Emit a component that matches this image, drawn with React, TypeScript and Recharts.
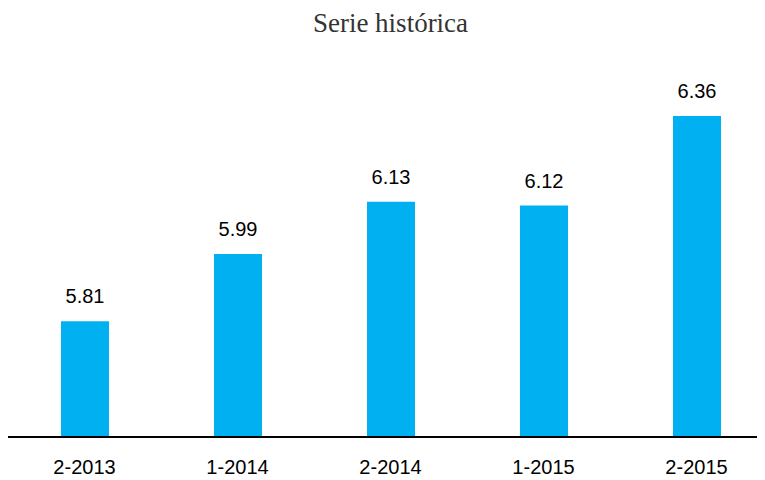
import { BarChart, Bar, XAxis, YAxis, LabelList } from 'recharts'

const periods = ['2-2013', '1-2014', '2-2014', '1-2015', '2-2015']
const values = [5.81, 5.99, 6.13, 6.12, 6.36]

const data = periods.map((p, i) => ({ period: p, value: values[i] }))

const numFont = '"Liberation Sans", Arial, sans-serif'

export default function App() {
  return (
    <div style={{ position: 'relative', width: 757, height: 472, overflow: 'hidden' }}>
      <div
        style={{
          position: 'absolute',
          top: 0,
          left: 0,
          width: 765,
          textAlign: 'center',
          fontFamily: '"Liberation Serif", "Times New Roman", serif',
          fontSize: 27,
          lineHeight: '31px',
          color: '#333',
        }}
      >
        Serie histórica
      </div>
      <BarChart width={765} height={472} data={data} margin={{ top: 93, right: 0, bottom: 0, left: 0 }}>
        <XAxis
          dataKey="period"
          height={43}
          tickLine={false}
          tickSize={0}
          tickMargin={23}
          axisLine={{ stroke: '#000', strokeWidth: 2 }}
          tick={{ fill: '#000', fontSize: 20, fontFamily: numFont }}
        />
        <YAxis hide domain={[5.5, 6.4]} allowDataOverflow />
        <Bar dataKey="value" fill="#00B0F0" barSize={48} isAnimationActive={false}>
          <LabelList
            dataKey="value"
            position="top"
            offset={18}
            fill="#000"
            fontSize={20}
            fontFamily={numFont}
            formatter={(v: number) => v.toFixed(2)}
          />
        </Bar>
      </BarChart>
    </div>
  )
}
